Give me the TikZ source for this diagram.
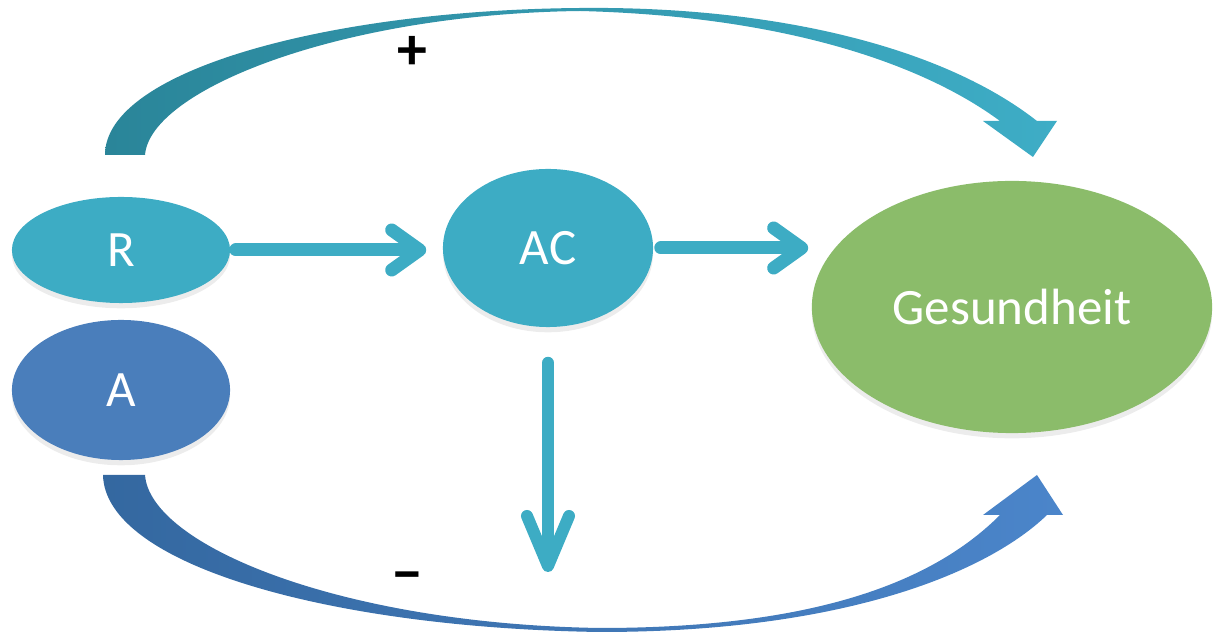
\documentclass[tikz,border=0pt]{standalone}
\usepackage{fontspec}
\setmainfont{Carlito}
\usetikzlibrary{arrows.meta,shapes.geometric,shadows}

\definecolor{tealnode}{HTML}{3DACC4}
\definecolor{bluenode}{HTML}{4A7EBB}
\definecolor{greennode}{HTML}{8BBC6A}
\definecolor{topL}{HTML}{2A8599}
\definecolor{topR}{HTML}{3EADC6}
\definecolor{botL}{HTML}{3468A0}
\definecolor{botR}{HTML}{4B85CA}

\tikzset{
	bubble/.style={ellipse, inner sep=0pt, text=white, font=\fontsize{14.5}{17}\selectfont,
		drop shadow={shadow xshift=0pt, shadow yshift=-1.5pt, opacity=0.15}},
	flow/.style={line width=0.13cm, draw=tealnode, line cap=round,
		-{Straight Barb[length=0.28cm, width=0.4cm, line cap=round, line join=round]}},
	flowdown/.style={line width=0.12cm, draw=tealnode, line cap=round,
		-{Straight Barb[length=0.5cm, width=0.42cm, line cap=round, line join=round]}},
	sign/.style={font=\fontsize{17}{19}\selectfont\bfseries, text=black},
}

\begin{document}
\begin{tikzpicture}[x=0.01cm, y=-0.01cm]
			%%%%% START %%%%%
			\useasboundingbox (0,0) rectangle (1214,637);
			
			% top band (+)
			\shade[left color=topL, right color=topR]
				(105,155) .. controls (105,70) and (330,10) .. (580,8)
				.. controls (770,6) and (940,45) .. (1037,121)
				-- (1057,121) -- (1033,157) -- (983,121) -- (1000,121)
				.. controls (920,62) and (780,16) .. (580,11)
				.. controls (340,14) and (150,90) .. (145,155) -- cycle;
			
			% bottom band (-)
			\shade[left color=botL, right color=botR]
				(103,475) .. controls (105,565) and (330,628) .. (600,632)
				.. controls (850,632) and (990,570) .. (1047,515)
				-- (1063,515) -- (1037,475) -- (983,515) -- (1000,515)
				.. controls (940,575) and (830,628) .. (600,628)
				.. controls (340,624) and (150,545) .. (145,475) -- cycle;
			
			\node[sign] (plus) at (412,53) {+};
			\node[sign] (minus) at (407,583) {−};
			
			\node[bubble, fill=tealnode, minimum width=2.18cm, minimum height=1.06cm] (R) at (121,250) {R};
			\node[bubble, fill=bluenode, minimum width=2.18cm, minimum height=1.40cm] (A) at (121,390) {A};
			\node[bubble, fill=tealnode, minimum width=2.10cm, minimum height=1.58cm] (AC) at (548,248) {AC};
			\node[bubble, fill=greennode, minimum width=4.00cm, minimum height=2.52cm] (G) at (1012,307) {Gesundheit};
			
			\coordinate (ACout) at (551,572);
			
			\draw[flow, shorten <=0.05cm, shorten >=0.16cm] (R.east) -- (R.east -| AC.west);
			\draw[flow, shorten <=0.07cm, shorten >=0.03cm] (AC.east) -- (AC.east -| G.west);
			\draw[flowdown, shorten <=0.35cm] (AC.south) -- (AC.south |- ACout);
			
			%%%%% END %%%%%
\end{tikzpicture}
\end{document}
